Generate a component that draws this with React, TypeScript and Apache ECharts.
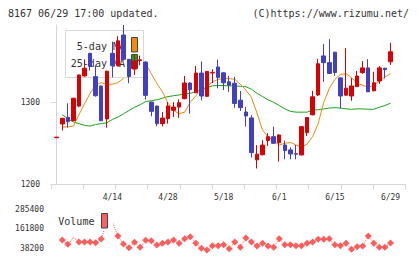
import React, { useEffect, useRef } from 'react';
import * as echarts from 'echarts';

// ---- data ----
const DATES = [
  '3/31', '4/1', '4/2', '4/3', '4/6', '4/7', '4/8', '4/9', '4/10', '4/13',
  '4/14', '4/15', '4/16', '4/17', '4/20', '4/21', '4/22', '4/23', '4/24', '4/27',
  '4/28', '4/30', '5/1', '5/7', '5/8', '5/11', '5/12', '5/13', '5/14', '5/15',
  '5/18', '5/19', '5/20', '5/21', '5/22', '5/25', '5/26', '5/27', '5/28', '5/29',
  '6/1', '6/2', '6/3', '6/4', '6/5', '6/8', '6/9', '6/10', '6/11', '6/12',
  '6/15', '6/16', '6/17', '6/18', '6/19', '6/22', '6/23', '6/24', '6/25', '6/26',
  '6/29',
];
const DATE_LABEL_IDX = [10, 20, 30, 40, 50, 60];

const OPEN = [
  1256.8, 1273.6, 1281.7, 1277.6, 1295.5, 1332.1, 1359.8, 1331.3, 1319.9, 1279.7,
  1359.8, 1344.7, 1382.1, 1352.4, 1340.5, 1351, 1349.1, 1300.3, 1295.5, 1274,
  1280, 1290.2, 1294.2, 1304.4, 1323.5, 1311.7, 1335.7, 1307.3, 1335.8, 1343.1,
  1336, 1325, 1323.3, 1302.6, 1288.2, 1281, 1229.8, 1236, 1253.3, 1258.1,
  1250.8, 1248, 1241.9, 1237.4, 1235.8, 1263, 1284.7, 1309, 1356.6, 1348.4,
  1361.1, 1329.8, 1308.7, 1307.7, 1319.1, 1336.2, 1342, 1314, 1326, 1341.6, 1349.4,
];
const CLOSE = [
  1257.6, 1280.5, 1276.4, 1305, 1333.3, 1341.6, 1343.6, 1308, 1277.5, 1338,
  1344.6, 1375, 1352.5, 1331.5, 1350.5, 1351.8, 1308.5, 1289, 1274, 1280.8,
  1295.5, 1294.2, 1299.5, 1323.5, 1315.4, 1335.7, 1307.7, 1337.7, 1336.5, 1330.4,
  1323.8, 1321, 1298.6, 1293.5, 1283.3, 1238.6, 1236.8, 1247.8, 1258.1, 1250,
  1260.2, 1241.1, 1237, 1236.8, 1270.3, 1281.5, 1306.7, 1347, 1348.4, 1335.2,
  1336.4, 1307.7, 1317.3, 1319.9, 1332.1, 1342, 1312.8, 1323.8, 1342, 1339.8, 1361.6,
];
const LOW = [
  1256.8, 1265.6, 1269.1, 1277, 1294, 1331.5, 1338.6, 1307, 1277, 1269,
  1330.5, 1344.2, 1351, 1323.3, 1333.3, 1345.3, 1303.6, 1282.9, 1270.7, 1270.7,
  1274, 1282, 1281.2, 1304, 1286.1, 1311.2, 1302.4, 1306.8, 1323.5, 1317.1,
  1315, 1312.8, 1293.4, 1289.4, 1270.5, 1232.7, 1219.3, 1235.3, 1246.8, 1249.5,
  1227.6, 1230.5, 1230.5, 1230.5, 1235.3, 1259, 1284.2, 1307.7, 1325, 1334.7,
  1332.3, 1292.8, 1308.2, 1301.8, 1318.6, 1334.7, 1312.5, 1313.5, 1322.5, 1329, 1345.6,
];
const HIGH = [
  1257.6, 1281, 1298.8, 1305.5, 1333.8, 1352.4, 1360.2, 1345, 1320.4, 1338.5,
  1374, 1380.6, 1394.3, 1352.9, 1357.5, 1357, 1350, 1300.8, 1296, 1288.1,
  1300.3, 1300.3, 1303.6, 1332.1, 1324.7, 1344.2, 1349.9, 1338.2, 1340.2, 1352.2,
  1336.5, 1332.3, 1331, 1313.8, 1294.5, 1284.3, 1247.8, 1253.8, 1262.2, 1270.3,
  1260.7, 1253.3, 1245.1, 1248, 1270.8, 1282, 1314, 1353, 1371, 1377,
  1361.6, 1330.3, 1366, 1329.5, 1338.2, 1350.2, 1352.6, 1337.2, 1344.2, 1342.1, 1372.6,
];
const MA5 = [
  null, 1270, 1270, 1271, 1285, 1298, 1311, 1321, 1324, 1322,
  1322, 1324, 1329, 1339, 1346, 1351, 1347, 1335, 1323, 1313,
  1299, 1290, 1286, 1288, 1300, 1308, 1315, 1319, 1325, 1328,
  1329, 1329, 1328, 1322, 1315, 1306, 1287, 1266, 1258, 1253,
  1248, 1250, 1251, 1248, 1245, 1249, 1258, 1274, 1300, 1317,
  1328, 1334, 1335, 1330, 1323, 1321, 1318, 1321, 1326, 1331, 1335,
];
const MA25 = [
  null, 1285, 1280, 1276, 1274, 1272, 1271, 1273, 1274, 1275,
  1279, 1282, 1286, 1290, 1294, 1297, 1301, 1302, 1303, 1305,
  1307, 1308, 1309, 1310, 1311, 1313, 1315, 1318, 1320, 1320.5,
  1320.5, 1320, 1320, 1319.5, 1319, 1316, 1311, 1307, 1303, 1300,
  1296, 1292, 1289, 1288, 1288, 1288, 1290.5, 1291, 1292, 1293,
  1293.5, 1293, 1292, 1291.5, 1292, 1292, 1291.5, 1291.5, 1294, 1296, 1299,
];
const VOLUME = [
  null, 90500, 63500, 107500, 78000, 78000, 78000, 73500, 96800, 204000,
  206000, 115700, 65400, 42100, 76000, 44600, 88600, 86100, 59100, 69800,
  78000, 90500, 69800, 98700, 111300, 69800, 38300, 27700, 54700, 54700,
  61000, 35800, 78000, 44600, 103100, 78000, 52800, 69800, 52800, 44600,
  98700, 61000, 61000, 54700, 54700, 69800, 78000, 94900, 94900, 98700,
  61000, 54700, 69800, 32000, 48400, 52800, 115700, 69800, 44600, 44600, 71700,
];
const VOL_NO_MARK = [3, 10];
const PRICE_TICKS = [1200, 1300];
const VOLUME_TICKS = [38200, 161800, 285400];

// ---- styles ----
const MONO = "'DejaVu Sans Mono', monospace";
const UP = '#d80000';
const DOWN = '#4040c0';
const ORANGE = '#f28a0c';
const GREEN = '#1ca31c';
const VOLC = '#ff5c5c';
const AXIS = '#d6d6d6';
const TXT = '#333';
const XMIN = -1.025;
const XMAX = 62.66;

export default function App() {
  const ref = useRef<HTMLDivElement>(null);

  useEffect(() => {
    const chart = echarts.init(ref.current!, null, { renderer: 'svg' });

    const candleData = OPEN.map((o, i) => [i, o, CLOSE[i], LOW[i], HIGH[i]]);
    const ma5Data = MA5.map((v, i) => [i, v]).filter((d) => d[1] != null);
    const ma25Data = MA25.map((v, i) => [i, v]).filter((d) => d[1] != null);
    const volData: any[] = [];
    VOLUME.forEach((v, i) => {
      if (v == null) return;
      if (VOL_NO_MARK.includes(i)) volData.push({ value: [i, v], symbol: 'none' });
      else volData.push([i, v]);
    });

    const txt = (text: string, x: number, y: number, align: string, z = 6) => ({
      type: 'text',
      x,
      y,
      z,
      silent: true,
      style: {
        text,
        fill: TXT,
        font: `10px ${MONO}`,
        align,
        textAlign: align,
        verticalAlign: 'middle',
        textVerticalAlign: 'middle',
      },
    });

    const option: any = {
      animation: false,
      backgroundColor: '#fff',
      grid: [
        { left: 51, top: 25, right: 14.7, bottom: 74.7 },
        { left: 51, top: 209, right: 14.7, bottom: 4.6 },
      ],
      xAxis: [
        {
          type: 'value',
          gridIndex: 0,
          min: XMIN,
          max: XMAX,
          axisLine: { show: false },
          axisTick: { show: false },
          splitLine: { show: false },
          axisLabel: {
            customValues: DATE_LABEL_IDX,
            formatter: (v: number) => DATES[Math.round(v)] ?? '',
            fontFamily: MONO,
            fontSize: 8,
            color: TXT,
            margin: 9,
          },
        },
        {
          type: 'value',
          gridIndex: 0,
          position: 'bottom',
          min: 0,
          max: 11,
          interval: 1,
          axisLine: { show: true, lineStyle: { color: AXIS, width: 1 } },
          axisTick: { show: true, length: 5, lineStyle: { color: AXIS } },
          axisLabel: { show: false },
          splitLine: { show: false },
        },
        {
          type: 'value',
          gridIndex: 1,
          min: XMIN,
          max: XMAX,
          show: false,
        },
      ],
      yAxis: [
        {
          type: 'value',
          gridIndex: 0,
          min: 1200,
          max: 1394.3,
          axisLine: { show: true, lineStyle: { color: AXIS, width: 1 } },
          axisTick: { show: true, length: 6, customValues: PRICE_TICKS, lineStyle: { color: AXIS } },
          splitLine: { show: false },
          axisLabel: {
            customValues: PRICE_TICKS,
            formatter: (v: number) => String(v),
            fontFamily: MONO,
            fontSize: 8,
            color: TXT,
            margin: 11,
          },
        },
        {
          type: 'value',
          gridIndex: 1,
          min: 0,
          max: 285400,
          axisLine: { show: false },
          axisTick: { show: false },
          splitLine: { show: false },
          axisLabel: {
            customValues: VOLUME_TICKS,
            formatter: (v: number) => String(v),
            fontFamily: MONO,
            fontSize: 8,
            color: TXT,
            margin: 7,
          },
        },
      ],
      series: [
        {
          type: 'line',
          xAxisIndex: 0,
          yAxisIndex: 0,
          data: ma25Data,
          symbol: 'none',
          showSymbol: false,
          lineStyle: { color: GREEN, width: 1 },
          z: 3,
        },
        {
          type: 'line',
          xAxisIndex: 0,
          yAxisIndex: 0,
          data: ma5Data,
          symbol: 'none',
          showSymbol: false,
          lineStyle: { color: ORANGE, width: 1 },
          z: 3,
        },
        {
          type: 'candlestick',
          xAxisIndex: 0,
          yAxisIndex: 0,
          data: candleData,
          barWidth: 4,
          z: 10,
          itemStyle: {
            color: UP,
            color0: DOWN,
            borderColor: UP,
            borderColor0: DOWN,
            borderWidth: 1,
          },
        },
        {
          type: 'line',
          xAxisIndex: 2,
          yAxisIndex: 1,
          data: volData,
          symbol: 'diamond',
          symbolSize: 7,
          showSymbol: true,
          itemStyle: { color: VOLC },
          lineStyle: { color: VOLC, width: 1, type: 'dotted' },
          z: 3,
        },
      ],
      graphic: [
        txt('8167 06/29 17:00 updated.', 8, 13.5, 'left'),
        txt('(C)https://www.rizumu.net/', 409, 13.5, 'right'),
        {
          type: 'rect',
          z: 5,
          silent: true,
          shape: { x: 65.5, y: 30.5, width: 78, height: 47 },
          style: { fill: '#fff', stroke: '#d8d8d8', lineWidth: 1 },
        },
        txt('5-day MA', 125, 46.5, 'right'),
        txt('25-day MA', 125, 63, 'right'),
        {
          type: 'rect',
          z: 6,
          silent: true,
          shape: { x: 131.5, y: 37.5, width: 6, height: 14.5 },
          style: { fill: ORANGE, stroke: '#444', lineWidth: 1 },
        },
        {
          type: 'rect',
          z: 6,
          silent: true,
          shape: { x: 131.5, y: 54.5, width: 6, height: 14 },
          style: { fill: GREEN, stroke: '#444', lineWidth: 1 },
        },
        {
          type: 'rect',
          z: 5,
          silent: true,
          shape: { x: 56, y: 211, width: 57, height: 20 },
          style: { fill: '#fff' },
        },
        txt('Volume', 58.3, 221.7, 'left'),
        {
          type: 'rect',
          z: 6,
          silent: true,
          shape: { x: 101.5, y: 213.5, width: 6, height: 14.5 },
          style: { fill: '#ff6060', stroke: '#444', lineWidth: 1 },
        },
      ],
    };

    chart.setOption(option);
    return () => chart.dispose();
  }, []);

  return (
    <div
      ref={ref}
      style={{ position: 'fixed', left: 0, top: 0, width: 420, height: 259, background: '#fff' }}
    />
  );
}
